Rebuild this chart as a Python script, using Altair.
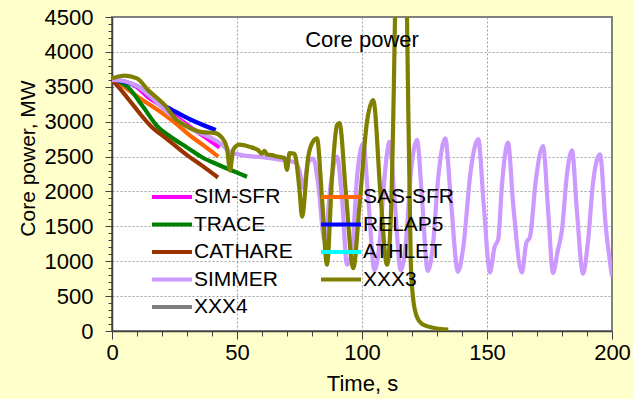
import altair as alt
import pandas as pd

# ---- data ----
sim_sfr_t = [0, 4, 9, 14.5, 20, 24, 28, 33, 38, 43]
sim_sfr_p = [3600, 3580, 3520, 3350, 3220, 3120, 3010, 2880, 2760, 2630]

sas_sfr_t = [0, 3, 6, 10.5, 17, 24, 32, 37, 42.5]
sas_sfr_p = [3600, 3550, 3470, 3350, 3200, 3020, 2780, 2650, 2500]

trace_t = [0, 3, 6.5, 12.3, 18, 24, 30, 36, 42, 48, 54]
trace_p = [3600, 3570, 3490, 3220, 2940, 2770, 2630, 2490, 2390, 2300, 2210]

relap5_t = [0, 5, 10.5, 17, 24, 32, 41.5]
relap5_p = [3600, 3570, 3500, 3310, 3170, 3020, 2880]

cathare_t = [0, 3, 8.4, 15.2, 22, 30, 36, 42.4]
cathare_p = [3600, 3480, 3240, 2950, 2750, 2520, 2370, 2200]

simmer_t = [0, 5, 10.5, 16, 21, 26.5, 30, 34.5, 40, 44, 47, 52, 60, 68, 73,
            75, 76.5, 78.5, 80.5, 82.5, 85, 87.5, 90, 92, 94, 96, 98, 100.5,
            102.5, 105, 107, 109, 111, 113, 115.5, 117.5, 119.5, 122, 124,
            126.3, 128.3, 130.5, 133.3, 135.5, 138.4, 140.5, 143.5, 146.5,
            148.7, 151.2, 153, 154.5, 156, 158.4, 160.5, 164, 165.7, 167.2,
            169.5, 172.4, 174.5, 176.4, 178.3, 180, 182, 184, 186, 188.4,
            190.3, 192.5, 195.2, 197.5, 200]
simmer_p = [3600, 3580, 3500, 3340, 3170, 3020, 2930, 2850, 2760, 2670, 2570,
            2520, 2490, 2450, 2420,
            2300, 2050, 2420, 2470, 2100, 1300, 2100, 2500, 1900, 950, 1150,
            2200, 2690, 1900, 870, 1250, 2200, 2710, 1900, 870, 1250, 2250,
            2740, 1900, 860, 1200, 2200, 2760, 1900, 850, 1200, 2300, 2750,
            1800, 840, 1200, 1320, 2100, 2700, 1800, 840, 1260, 1350, 2150,
            2650, 1700, 830, 1150, 1450, 2250, 2590, 1700, 820, 1250, 2150,
            2530, 1500, 780]

xxx3_t = [0, 3, 5, 10, 14.5, 21, 26, 29, 36, 41, 44, 46, 47.2, 48.5, 51, 55,
          58.5, 60, 61, 62, 64, 66, 69, 70, 71, 73, 75, 76, 78.5, 80.5, 82,
          84, 86, 88, 90, 91, 93.5, 96.5, 99, 102, 104.5, 107.5, 110, 111.5,
          113.2, 114.5, 116.5, 118, 119.5, 120.5, 122, 124, 128, 134.5]
xxx3_p = [3620, 3650, 3660, 3620, 3450, 3240, 3020, 2950, 2850, 2840, 2770,
          2620, 2300, 2600, 2670, 2640, 2590, 2540, 2580, 2530, 2520, 2500,
          2480, 2310, 2550, 2540, 2020, 1640, 2500, 2720, 2760, 1900, 950,
          2200, 2950, 2980, 2000, 900, 1800, 3000, 3310, 1900, 950, 1600,
          4500, 8000, 8000, 4500, 1000, 450, 200, 100, 50, 20]

# legend order (filled column by column: left column first, then right column)
series_names = ["SIM-SFR", "TRACE", "CATHARE", "SIMMER", "XXX4",
                "SAS-SFR", "RELAP5", "ATHLET", "XXX3"]
series_colors = ["#FF00FF", "#008000", "#993300", "#CC99FF", "#808080",
                 "#FF6600", "#0000FF", "#00FFFF", "#808000"]

draw_order = [
    ("SIM-SFR", sim_sfr_t, sim_sfr_p),
    ("SAS-SFR", sas_sfr_t, sas_sfr_p),
    ("TRACE", trace_t, trace_p),
    ("RELAP5", relap5_t, relap5_p),
    ("CATHARE", cathare_t, cathare_p),
    ("SIMMER", simmer_t, simmer_p),
    ("XXX3", xxx3_t, xxx3_p),
]

rows = []
for k, (name, ts, ps) in enumerate(draw_order):
    for t, p in zip(ts, ps):
        rows.append({"series": name, "t": t, "p": p, "k": k})
df = pd.DataFrame(rows)

FONT = "Liberation Sans"

x_axis = alt.Axis(
    values=list(range(0, 201, 10)),
    labelExpr="datum.value % 50 === 0 ? datum.label : ''",
    format="d",
    labelFontSize=22, labelFont=FONT, labelColor="black", labelPadding=3,
    labelOverlap=False, labelFlush=False,
    title="Time, s", titleFontSize=22, titleFont=FONT, titleFontWeight="normal",
    titleColor="black", titleY=59, titleBaseline="alphabetic",
    grid=True,
    gridOpacity={"condition": {"test": "datum.value % 50 === 0 && datum.value > 0 && datum.value < 200", "value": 1}, "value": 0},
    gridDash=[2, 2], gridColor="#A0A0A0", gridWidth=1,
    tickSize={"condition": {"test": "datum.value % 50 === 0", "value": 8}, "value": 5},
    tickColor="#404040", tickWidth=1,
    domainColor="#404040", domainWidth=1.5,
)

y_axis = alt.Axis(
    values=list(range(0, 4501, 100)),
    labelExpr="datum.value % 500 === 0 ? datum.label : ''",
    format="d",
    labelFontSize=22, labelFont=FONT, labelColor="black", labelPadding=12,
    labelOverlap=False, labelFlush=False,
    title="Core power, MW", titleFontSize=21, titleFont=FONT,
    titleFontWeight="normal", titleColor="black",
    titleAngle=270, titleX=-78, titleY=141, titleAlign="center",
    titleBaseline="alphabetic",
    grid=True,
    gridOpacity={"condition": {"test": "datum.value % 500 === 0 && datum.value > 0 && datum.value < 4500", "value": 1}, "value": 0},
    gridDash=[2, 2], gridColor="#A0A0A0", gridWidth=1,
    tickSize={"condition": {"test": "datum.value % 500 === 0", "value": 7}, "value": 4},
    tickColor="#404040", tickWidth=1,
    domainColor="#404040", domainWidth=1.5,
)

legend = alt.Legend(
    title=None, orient="none", legendX=48, legendY=168, columns=2,
    symbolType="M-2,0H2", symbolSize=400, symbolStrokeWidth=4,
    symbolFillColor="transparent",
    labelFontSize=21, labelFont=FONT, labelColor="black", labelOffset=10,
    labelLimit=300,
    rowPadding=5.5, columnPadding=20, padding=0, symbolOpacity=1,
)

chart = (
    alt.Chart(df)
    .mark_line(clip=True, strokeWidth=4.2, interpolate="monotone")
    .encode(
        x=alt.X("t:Q", scale=alt.Scale(domain=[0, 200], nice=False, zero=False), axis=x_axis),
        y=alt.Y("p:Q", scale=alt.Scale(domain=[0, 4500], nice=False), axis=y_axis),
        color=alt.Color("series:N", scale=alt.Scale(domain=series_names, range=series_colors), legend=legend),
        order=alt.Order("t:Q"),
    )
    .properties(
        width=500, height=314,
        title=alt.TitleParams("Core power", fontSize=22, font=FONT, fontWeight="normal",
                              color="black", anchor="middle", orient="top",
                              baseline="alphabetic", offset=0, dy=63),
        autosize=alt.AutoSizeParams(type="none"),
        padding={"left": 112, "top": 17, "right": 21, "bottom": 68},
    )
    .configure(background="#FFFFCC")
    .configure_view(fill="white", stroke="#808080", strokeWidth=2)
)

chart.save("out.html", embed_options={"renderer": "svg", "actions": False})
